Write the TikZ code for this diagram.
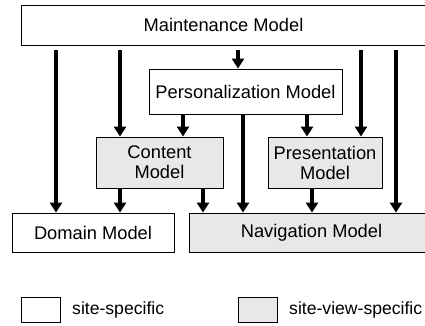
\documentclass[tikz,border=0pt]{standalone}
\usepackage{fontspec}
\setmainfont{Liberation Sans}
\definecolor{boxgray}{RGB}{232,232,232}
\usetikzlibrary{arrows.meta,positioning}

\begin{document}
\begin{tikzpicture}[x=1pt, y=-1pt,
  mbox/.style={rectangle, draw=black, line width=0.9pt, fill=white,
               inner sep=0pt, align=center,
               font=\fontsize{18.3}{20}\selectfont},
  vbox/.style={mbox, fill=boxgray},
  arr/.style={-{Triangle[length=10pt, width=12pt]}, line width=3.8pt},
  legtext/.style={anchor=west, inner sep=0pt, font=\fontsize{17.6}{20}\selectfont}
]
\useasboundingbox (0,0) rectangle (425,325);

% Model boxes
\node[mbox, minimum width=405pt, minimum height=40pt] (maint) at (223.5,25)
  {Maintenance Model};
\node[mbox, minimum width=193pt, minimum height=45pt] (pers) at (245.5,91.5)
  {Personalization Model};
\node[vbox, minimum width=127pt, minimum height=51pt] (cont) at (159.5,162.5)
  {Content\\Model};
\node[vbox, minimum width=114pt, minimum height=51pt] (pres) at (325,162.5)
  {Presentation\\Model};
\node[mbox, minimum width=162pt, minimum height=39pt] (dom) at (93,232.5)
  {Domain Model};
\node[vbox, minimum width=245pt, minimum height=39pt] (nav) at (311.5,232.5)
  {Navigation Model};

% Legend
\node[mbox, minimum width=39pt, minimum height=25pt] (legsite) at (40.5,309.5) {};
\node[legtext] (legsitetxt) at (72,309.5) {site-specific};
\node[vbox, minimum width=39pt, minimum height=25pt] (legview) at (257.5,309.5) {};
\node[legtext] (legviewtxt) at (289,309.5) {site-view-specific};

% Arrows from the maintenance model
\draw[arr, shorten <=5pt] (maint.south -| 56,0)  -- (dom.north -| 56,0);
\draw[arr, shorten <=5pt] (maint.south -| 120,0) -- (cont.north -| 120,0);
\draw[arr, shorten <=5pt] (maint.south -| 238,0) -- (pers.north -| 238,0);
\draw[arr, shorten <=5pt] (maint.south -| 361,0) -- (pres.north -| 361,0);
\draw[arr, shorten <=5pt] (maint.south -| 396,0) -- (nav.north -| 396,0);

% Arrows from the personalization model
\draw[arr] (pers.south -| 183,0) -- (cont.north -| 183,0);
\draw[arr] (pers.south -| 243,0) -- (nav.north -| 243,0);
\draw[arr] (pers.south -| 307,0) -- (pres.north -| 307,0);

% Arrows from content and presentation
\draw[arr] (cont.south -| 120,0) -- (dom.north -| 120,0);
\draw[arr] (cont.south -| 203,0) -- (nav.north -| 203,0);
\draw[arr] (pres.south -| 312,0) -- (nav.north -| 312,0);
\end{tikzpicture}
\end{document}
